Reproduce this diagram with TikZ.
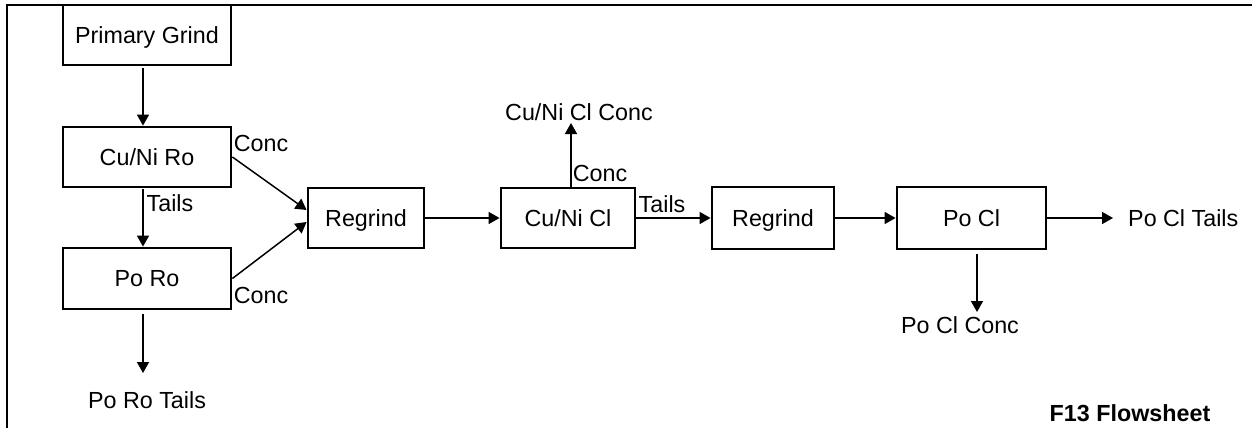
\documentclass[tikz,border=0pt]{standalone}
\usepackage{fontspec}
\setmainfont{Liberation Sans}
\usetikzlibrary{arrows.meta}
\begin{document}
\begin{tikzpicture}[x=1pt,y=-1pt,
  every node/.style={font=\fontsize{23.3}{27}\selectfont},
  txt/.style={inner sep=0pt, text height=16.5pt, text depth=0pt},
  unit/.style={draw, line width=2.8pt, inner sep=0pt, text height=16.5pt, text depth=0pt},
  arr/.style={line width=1.5pt, -{Triangle[length=11pt,width=12pt]}},
  frame/.style={line width=1.5pt}]
\useasboundingbox (0,0) rectangle (1252,428);
\draw[frame] (1252,5) -- (7,5) -- (7,428);
% units
\node[unit, minimum width=168pt, minimum height=60pt] (pg) at (147,35) {Primary Grind};
\node[unit, minimum width=168pt, minimum height=60pt] (cuniro) at (147,157) {Cu/Ni Ro};
\node[unit, minimum width=168pt, minimum height=61pt] (poro) at (147,278.5) {Po Ro};
\node[unit, minimum width=116pt, minimum height=60pt] (rg1) at (366,218) {Regrind};
\node[unit, minimum width=134pt, minimum height=60pt] (cunicl) at (568,218) {Cu/Ni Cl};
\node[unit, minimum width=122pt, minimum height=62pt] (rg2) at (773,218) {Regrind};
\node[unit, minimum width=149pt, minimum height=62pt] (pocl) at (971.5,218) {Po Cl};
% labels
\node[txt] (conc1) at (261,143) {Conc};
\node[txt] (conc2) at (261,295) {Conc};
\node[txt] (tails1) at (170,203) {Tails};
\node[txt] (porotails) at (147,400) {Po Ro Tails};
\node[txt] (cuniclconc) at (579,112) {Cu/Ni Cl Conc};
\node[txt] (conc3) at (600,173) {Conc};
\node[txt] (tails2) at (662,204) {Tails};
\node[txt, anchor=west] (pocltails) at (1128,218) {Po Cl Tails};
\node[txt] (poclconc) at (960,325) {Po Cl Conc};
\node[txt, font=\fontsize{23.3}{27}\selectfont\bfseries] (title) at (1130,413) {F13 Flowsheet};
% free ends
\coordinate (porotailsend) at (143,373);
\coordinate (cuniclconcend) at (571,123);
\coordinate (poclconcend) at (977,312);
\coordinate (pocltailsend) at (1113,218);
% connectors
\draw[arr] ([xshift=-4pt,yshift=-2pt]pg.south) -- ([xshift=-4pt]cuniro.north);
\draw[arr] ([xshift=-4pt,yshift=-1pt]cuniro.south) -- ([xshift=-4pt]poro.north);
\draw[arr] ([xshift=-4pt,yshift=-4pt]poro.south) -- (porotailsend);
\draw[arr] (cuniro.east) -- ([yshift=8pt]rg1.west);
\draw[arr] (poro.east) -- ([yshift=-4pt]rg1.west);
\draw[arr] (rg1.east) -- (cunicl.west);
\draw[arr] ([xshift=3pt]cunicl.north) -- (cuniclconcend);
\draw[arr] (cunicl.east) -- (rg2.west);
\draw[arr] (rg2.east) -- (pocl.west);
\draw[arr] (pocl.east) -- (pocltailsend);
\draw[arr] ([xshift=5.5pt,yshift=-4pt]pocl.south) -- (poclconcend);
\end{tikzpicture}
\end{document}
